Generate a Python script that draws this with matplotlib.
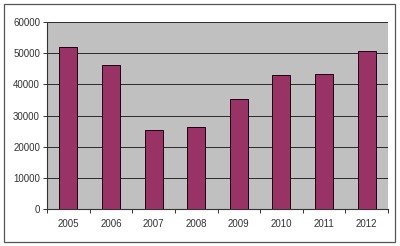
import matplotlib
matplotlib.use("Agg")
import matplotlib.pyplot as plt
import numpy as np
from matplotlib.patches import Rectangle

years = ["2005", "2006", "2007", "2008", "2009", "2010", "2011", "2012"]
values = [52000, 46300, 25300, 26200, 35300, 42900, 43300, 50700]

plt.rcParams["font.family"] = ["Liberation Sans", "DejaVu Sans"]

fig = plt.figure(figsize=(4, 2.46), dpi=100)
fig.patch.set_facecolor("white")
# outer chart border
fig.patches.append(Rectangle((4 / 400, 4 / 246), 391 / 400, 238 / 246, transform=fig.transFigure,
                             fill=False, edgecolor="#555555", linewidth=0.9))

ax = fig.add_axes([47 / 400, 37 / 246, 341 / 400, 187 / 246])
ax.set_facecolor("#C0C0C0")

x = np.arange(len(years))
ax.bar(x, values, width=0.42, color="#993366", edgecolor="#1a0010", linewidth=0.7, zorder=3)

ax.set_xlim(-0.5, len(years) - 0.5)
ax.set_ylim(0, 60000)
ax.set_yticks(np.arange(0, 60001, 10000))
ax.yaxis.grid(True, color="#2a2a2a", linewidth=0.7, zorder=1)

ax.set_xticks(x)
ax.set_xticklabels(years)
ax.set_xticks(np.arange(-0.5, len(years) - 0.4, 1), minor=True)
ax.tick_params(axis="x", which="major", length=0, pad=7, labelsize=7, colors="#333333")
ax.tick_params(axis="x", which="minor", length=3, width=0.7, color="#333333")
ax.tick_params(axis="y", length=3, width=0.7, pad=2, labelsize=7, colors="#333333")

for s in ("top", "right"):
    ax.spines[s].set_visible(False)
for s in ("left", "bottom"):
    ax.spines[s].set_color("#333333")
    ax.spines[s].set_linewidth(0.8)

fig.savefig("out.png", dpi=100)
